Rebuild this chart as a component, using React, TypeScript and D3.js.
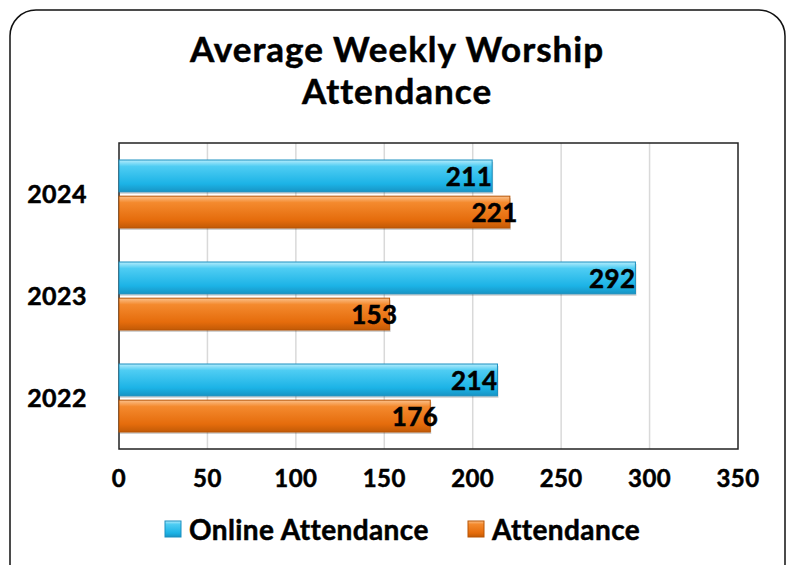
import React, { useEffect, useRef } from 'react';
import * as d3 from 'd3';

const years = ['2024', '2023', '2022'];
const onlineAttendance = [211, 292, 214];
const attendance = [221, 153, 176];
const seriesNames = ['Online Attendance', 'Attendance'];
const xTicks = [0, 50, 100, 150, 200, 250, 300, 350];

const FONT = 'Lato, "Open Sans", sans-serif';

export default function App() {
  const ref = useRef<SVGSVGElement>(null);

  useEffect(() => {
    const width = 790, height = 565;
    const margin = { top: 143, right: 52, bottom: 116, left: 119 };
    const svg = d3.select(ref.current);
    svg.selectAll('*').remove();

    const defs = svg.append('defs');
    const grad = (id: string, stops: [number, string][]) => {
      const g = defs.append('linearGradient').attr('id', id)
        .attr('x1', 0).attr('y1', 0).attr('x2', 0).attr('y2', 1);
      stops.forEach(([o, c]) => g.append('stop').attr('offset', o).attr('stop-color', c));
    };
    grad('gradOnline', [[0, '#b5ecfc'], [0.2, '#4fcdf3'], [0.75, '#1cb3e6'], [1, '#1794c4']]);
    grad('gradAtt', [[0, '#fbc08a'], [0.2, '#f48a2e'], [0.75, '#e56c0c'], [1, '#c25a06']]);

    // bold-ish text helper, a thin stroke makes Lato bold look heavier
    const bold = (sel: any, size: number, spacing = 0.4) => sel
      .attr('font-family', FONT)
      .attr('font-weight', 'bold')
      .attr('font-size', size)
      .attr('letter-spacing', spacing)
      .attr('fill', '#000')
      .attr('stroke', '#000')
      .attr('stroke-width', 0.5);

    // frame
    svg.append('rect')
      .attr('x', 10).attr('y', 10)
      .attr('width', 775).attr('height', 580)
      .attr('rx', 26)
      .attr('fill', '#fff')
      .attr('stroke', '#111')
      .attr('stroke-width', 1.5);

    // title
    const title = svg.append('text')
      .attr('text-anchor', 'middle')
      .call(bold, 35, 1);
    title.append('tspan').attr('x', 397).attr('y', 62).text('Average Weekly Worship');
    title.append('tspan').attr('x', 397).attr('y', 104).text('Attendance');

    const x = d3.scaleLinear()
      .domain([0, 350])
      .range([margin.left, width - margin.right]);

    const y = d3.scaleBand()
      .domain(years)
      .range([margin.top, height - margin.bottom]);

    const inner = d3.scaleBand()
      .domain(seriesNames)
      .range([17, y.bandwidth() - 17])
      .paddingInner(0.12);

    // gridlines
    svg.append('g')
      .selectAll('line').data(xTicks.slice(1, -1)).enter().append('line')
      .attr('x1', d => x(d)).attr('x2', d => x(d))
      .attr('y1', margin.top).attr('y2', height - margin.bottom)
      .attr('stroke', '#d9d9d9')
      .attr('stroke-width', 1.5);

    // plot border
    svg.append('rect')
      .attr('x', margin.left).attr('y', margin.top)
      .attr('width', x(350) - x(0))
      .attr('height', height - margin.bottom - margin.top)
      .attr('fill', 'none')
      .attr('stroke', '#222')
      .attr('stroke-width', 1.5);

    const rows = years.map((yr, i) => ({ yr, values: [onlineAttendance[i], attendance[i]] }));

    const series = [
      { name: seriesNames[0], fill: 'url(#gradOnline)', stroke: '#1a8fbf', labelOff: 0 },
      { name: seriesNames[1], fill: 'url(#gradAtt)', stroke: '#b85505', labelOff: 8 },
    ];

    series.forEach((s, si) => {
      const g = svg.append('g');
      const data = rows.map(r => ({ yr: r.yr, v: r.values[si] }));
      // shadow
      g.selectAll('rect.shadow').data(data).enter().append('rect')
        .attr('x', x(0) + 1)
        .attr('y', d => (y(d.yr) as number) + (inner(s.name) as number) + 2)
        .attr('width', d => x(d.v) - x(0))
        .attr('height', inner.bandwidth())
        .attr('fill', 'rgba(0,0,0,0.18)');
      g.selectAll('rect.bar').data(data).enter().append('rect')
        .attr('x', x(0))
        .attr('y', d => (y(d.yr) as number) + (inner(s.name) as number))
        .attr('width', d => x(d.v) - x(0))
        .attr('height', inner.bandwidth())
        .attr('fill', s.fill)
        .attr('stroke', s.stroke)
        .attr('stroke-width', 1);
      g.selectAll('text').data(data).enter().append('text')
        .attr('x', d => x(d.v) + s.labelOff)
        .attr('y', d => (y(d.yr) as number) + (inner(s.name) as number) + inner.bandwidth() / 2 + 10)
        .attr('text-anchor', 'end')
        .call(bold, 26)
        .text(d => d.v);
    });

    // x tick labels
    svg.append('g')
      .selectAll('text').data(xTicks).enter().append('text')
      .attr('x', d => x(d))
      .attr('y', 487)
      .attr('text-anchor', 'middle')
      .call(bold, 24)
      .text(d => d);

    // category labels
    svg.append('g')
      .selectAll('text').data(years).enter().append('text')
      .attr('x', 57)
      .attr('y', d => (y(d) as number) + y.bandwidth() / 2 + 9)
      .attr('text-anchor', 'middle')
      .call(bold, 25)
      .text(d => d);

    // legend
    const legend = [
      { name: seriesNames[0], fill: 'url(#gradOnline)', stroke: '#1a8fbf', x: 165 },
      { name: seriesNames[1], fill: 'url(#gradAtt)', stroke: '#b85505', x: 468 },
    ];
    const lg = svg.append('g').selectAll('g').data(legend).enter().append('g')
      .attr('transform', d => `translate(${d.x},530)`);
    lg.append('rect')
      .attr('x', 0).attr('y', -9)
      .attr('width', 16).attr('height', 16)
      .attr('fill', d => d.fill)
      .attr('stroke', d => d.stroke);
    lg.append('text')
      .attr('x', 24).attr('y', 10)
      .call(bold, 28)
      .text(d => d.name);
  }, []);

  return (
    <svg ref={ref} width={790} height={565}
      style={{ position: 'absolute', left: 0, top: 0, background: '#fff' }} />
  );
}
